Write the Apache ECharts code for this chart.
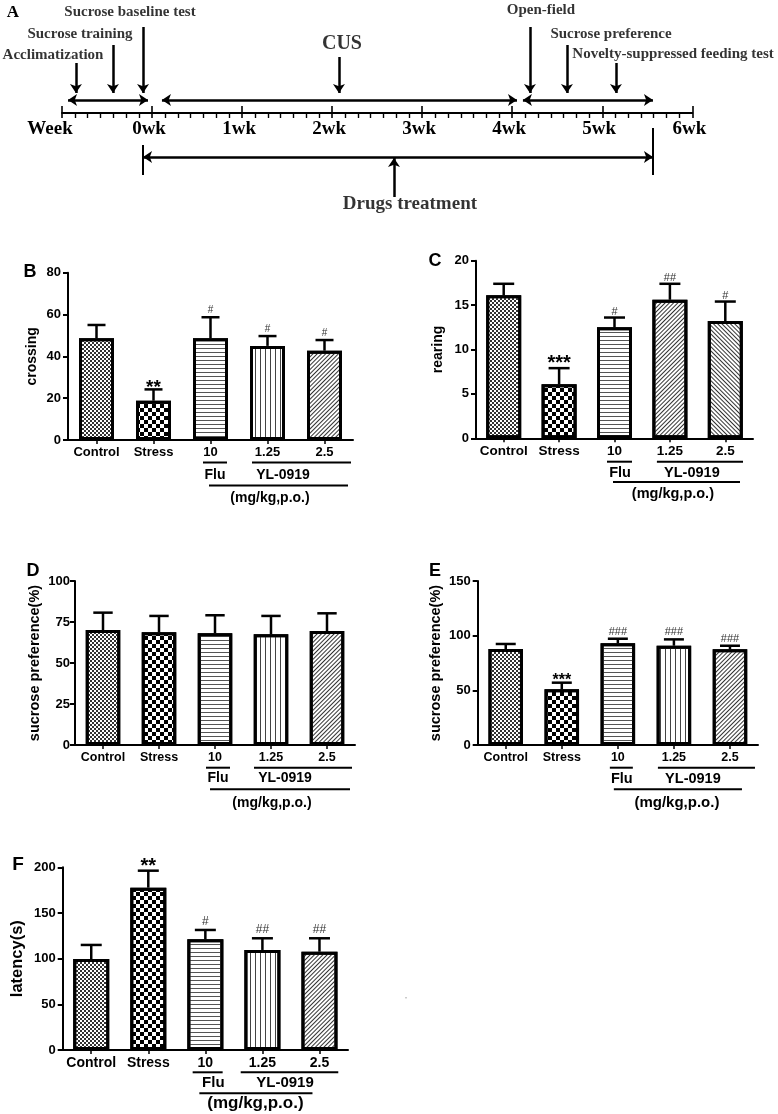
<!DOCTYPE html>
<html><head><meta charset="utf-8">
<script src="https://cdn.jsdelivr.net/npm/echarts@6/dist/echarts.min.js"></script>
<style>html,body{margin:0;padding:0;background:#fff}#c{width:778px;height:1114px}</style>
</head><body><div id="c"></div>
<script>
// ================= DATA =================
// Panel A: timeline (weeks, -1 .. 6)
const timelineTicks = ['Week','0wk','1wk','2wk','3wk','4wk','5wk','6wk'];
const eventNames = ['Acclimatization','Sucrose training','Sucrose baseline test','CUS','Open-field','Sucrose preference','Novelty-suppressed feeding test'];
const eventWeeks = [-0.845, -0.434, -0.1, 2.076, 4.197, 4.608, 5.152];
const periodStart = [-0.933, 0.11, 4.119];
const periodEnd   = [-0.045, 4.053, 5.563];
const treatmentRange = [-0.1, 5.563];
const treatmentName = 'Drugs treatment';
const treatmentArrowWeek = 2.687;

// Panels B-F
const categories = ['Control','Stress','10','1.25','2.5'];
const groupLabels = ['Flu','YL-0919'];
const doseUnit = '(mg/kg,p.o.)';

const crossingMean = [48.6, 18.8, 48.6, 45.0, 42.7];
const crossingSem  = [6.4, 5.4, 10.1, 4.7, 5.1];
const crossingMarks = ['', '**', '#', '#', '#'];

const rearingMean = [16.1, 6.1, 12.5, 15.6, 13.2];
const rearingSem  = [1.3, 1.8, 1.1, 1.8, 2.2];
const rearingMarks = ['', '***', '#', '##', '#'];

const baselineSucroseMean = [70.1, 68.7, 68.1, 67.5, 69.5];
const baselineSucroseSem  = [10.6, 10.0, 11.0, 11.2, 10.8];
const baselineSucroseMarks = ['', '', '', '', ''];

const finalSucroseMean = [87.8, 50.9, 93.0, 90.8, 87.5];
const finalSucroseSem  = [4.6, 6.1, 4.2, 5.8, 3.3];
const finalSucroseMarks = ['', '***', '###', '###', '###'];

const latencyMean = [99.6, 177.7, 121.2, 109.5, 107.6];
const latencySem  = [15.4, 18.6, 10.2, 12.8, 14.7];
const latencyMarks = ['', '**', '#', '##', '##'];

// ================= STYLE / LAYOUT =================
const SANS = '"Liberation Sans", Arial, sans-serif';
const SERIF = '"Liberation Serif", "Times New Roman", serif';

const decals = {
  fine:    {symbol:'rect', symbolSize:1, dashArrayX:[[2,2],[0,2,2,0]], dashArrayY:[2,0], color:'#333'},
  checker: {symbol:'rect', symbolSize:1, dashArrayX:[[4,4],[0,4,4,0]], dashArrayY:[4,0], color:'#000'},
  hlines:  {symbol:'rect', symbolSize:1, dashArrayX:[1,0], dashArrayY:[1,3], color:'#555'},
  vlines:  {symbol:'rect', symbolSize:1, dashArrayX:[1,4], dashArrayY:[1,0], color:'#444'},
  diagUp:  {symbol:'rect', symbolSize:1, dashArrayX:[1,0], dashArrayY:[1,2], rotation:-Math.PI/4, color:'#333'},
  diagDown:{symbol:'rect', symbolSize:1, dashArrayX:[1,0], dashArrayY:[1,2], rotation:Math.PI/4, color:'#333'}
};
const patStd = ['fine','checker','hlines','vlines','diagUp'];
const patC   = ['fine','checker','hlines','diagUp','diagDown'];

const panels = [
  {letter:'B', pos:[30,272], mean:crossingMean, sem:crossingSem, marks:crossingMarks, yName:'crossing', yMax:80, yInt:20,
   grid:{left:68, top:272.7, width:285, height:167.3}, barWidth:35, cap:9, pat:patStd,
   font:{cat:13, tick:13, name:14, group:14, mg:14, star:19, hash:10}, nameGap:29, tickMargin:7, starOff:2, hashOff:7,
   br:{y:{under:22.5, text:35, line:45.5, mg:58}, fluUnder:[-7.5,16.5], ylUnder:[-15.5,26.5], fluText:4.5, ylText:15.5, line:[-1.5,23.5], mgText:2.5}},
  {letter:'C', pos:[435,261], mean:rearingMean, sem:rearingSem, marks:rearingMarks, yName:'rearing', yMax:20, yInt:5,
   grid:{left:476, top:260.7, width:277, height:177.6}, barWidth:35, cap:10.5, pat:patC,
   font:{cat:13.5, tick:13, name:14, group:14.5, mg:14.5, star:20, hash:11}, nameGap:31, tickMargin:7, starOff:5, hashOff:6,
   br:{y:{under:23.4, text:34.7, line:43.7, mg:55.7}, fluUnder:[-7.5,17.5], ylUnder:[-13,17.7], fluText:5.5, ylText:22, line:[-1.5,14.7], mgText:3}},
  {letter:'D', pos:[33,571], mean:baselineSucroseMean, sem:baselineSucroseSem, marks:baselineSucroseMarks, yName:'sucrose preference(%)', yMax:100, yInt:25,
   grid:{left:75, top:581, width:280, height:164}, barWidth:34.5, cap:9.7, pat:patStd,
   font:{cat:12.5, tick:13, name:14.5, group:14, mg:14, star:18, hash:11}, nameGap:33, tickMargin:5, starOff:3, hashOff:7,
   br:{y:{under:22.7, text:33.5, line:44.3, mg:57.7}, fluUnder:[-9,15], ylUnder:[-17,25], fluText:3, ylText:14, line:[-5,23], mgText:1}},
  {letter:'E', pos:[435,571], mean:finalSucroseMean, sem:finalSucroseSem, marks:finalSucroseMarks, yName:'sucrose preference(%)', yMax:150, yInt:50,
   grid:{left:477.7, top:581, width:280.3, height:164}, barWidth:34.5, cap:10, pat:patStd,
   font:{cat:12.5, tick:13, name:14.5, group:14.5, mg:15, star:16, hash:11}, nameGap:34, tickMargin:7, starOff:2.5, hashOff:7,
   br:{y:{under:22.7, text:33.5, line:44.3, mg:57.7}, fluUnder:[-8,15], ylUnder:[-16,25], fluText:4, ylText:19, line:[-4,12], mgText:3}},
  {letter:'F', pos:[18,865], mean:latencyMean, sem:latencySem, marks:latencyMarks, yName:'latency(s)', yMax:200, yInt:50,
   grid:{left:62.7, top:867.3, width:285.3, height:182.7}, barWidth:36, cap:10.5, pat:patStd,
   font:{cat:14, tick:13, name:16.5, group:15, mg:17, star:20, hash:12}, nameGap:37, tickMargin:7, starOff:4.5, hashOff:8.5,
   br:{y:{under:22.3, text:32.7, line:43.3, mg:53.3}, fluUnder:[-12.7,17.3], ylUnder:[-21.7,18.8], fluText:8, ylText:22.6, line:[-6,-7], mgText:-7}}
];

// Panel A layout (y levels in px above the timeline axis)
const evLayout = [
  {tw:-1.1,   ty:58,   top:50, size:15},
  {tw:-0.8,   ty:79,   top:68, size:15},
  {tw:-0.245, ty:101,  top:86, size:15},
  {tw:2.109,  ty:69.5, top:56, size:20},
  {tw:4.319,  ty:103,  top:86, size:15},
  {tw:5.097,  ty:79,   top:68, size:15},
  {tw:5.786,  ty:59,   top:50, size:15}
];
const ARROW_ROW = 13, TIP = 20, DRUG_ROW = -44;

function txt(text, x, y, font, align, valign, fill){
  return {type:'text', x:x, y:y, style:{text:text, font:font, fill:fill||'#000',
    align:align||'center', textAlign:align||'center', verticalAlign:valign||'middle', textVerticalAlign:valign||'middle'}};
}

// ================= OPTION =================
const grids = [{left:62, top:0, width:630.3, height:113, outerBoundsMode:'none', containLabel:false}];
const xAxes = [
  {type:'value', gridIndex:0, min:-1, max:6, interval:1, position:'bottom',
   axisLine:{show:true, onZero:false, lineStyle:{color:'#000', width:2}},
   axisTick:{show:true, length:5, lineStyle:{color:'#000', width:1.6}},
   minorTick:{show:true, splitNumber:7, length:5, lineStyle:{color:'#000', width:1.4}},
   splitLine:{show:false}, minorSplitLine:{show:false},
   axisLabel:{show:true, margin:7, showMinLabel:true, showMaxLabel:true,
     formatter:function(v){const i=Math.round(v)+1; return i===0 ? '{w|'+timelineTicks[i]+'}' : '{n|'+timelineTicks[i]+'}';},
     rich:{w:{fontFamily:SERIF, fontWeight:'bold', fontSize:19, color:'#000', padding:[0,24,0,0]},
           n:{fontFamily:SERIF, fontWeight:'bold', fontSize:19, color:'#000', padding:[0,6,0,0]}}}},
  {type:'value', gridIndex:0, min:-1, max:6, interval:1, position:'bottom',
   axisLine:{show:false, onZero:false}, axisTick:{show:true, inside:true, length:7, lineStyle:{color:'#000', width:1.6}},
   axisLabel:{show:false}, splitLine:{show:false}}
];
const yAxes = [{type:'value', gridIndex:0, min:0, max:113, show:false, splitLine:{show:false}}];
const series = [];

// Panel A series
series.push({type:'lines', coordinateSystem:'cartesian2d', xAxisIndex:0, yAxisIndex:0, silent:true, clip:false,
  symbol:['arrow','arrow'], symbolSize:9, lineStyle:{color:'#000', width:2.5, opacity:1},
  data: periodStart.map((s,i)=>({coords:[[s, ARROW_ROW],[periodEnd[i], ARROW_ROW]]}))
    .concat([{coords:[[treatmentRange[0], DRUG_ROW],[treatmentRange[1], DRUG_ROW]]}])});
series.push({type:'lines', coordinateSystem:'cartesian2d', xAxisIndex:0, yAxisIndex:0, silent:true, clip:false,
  symbol:['none','arrow'], symbolSize:9, lineStyle:{color:'#000', width:2.5, opacity:1},
  data: eventWeeks.map((w,i)=>({coords:[[w, evLayout[i].top],[w, TIP]]}))
    .concat([{coords:[[treatmentArrowWeek, -84],[treatmentArrowWeek, DRUG_ROW-1]]}])});
series.push({type:'lines', coordinateSystem:'cartesian2d', xAxisIndex:0, yAxisIndex:0, silent:true, clip:false,
  symbol:'none', lineStyle:{color:'#000', width:2, opacity:1},
  data:[{coords:[[treatmentRange[0], -32],[treatmentRange[0], -62]]},{coords:[[treatmentRange[1], -15],[treatmentRange[1], -62]]}]});
series.push({type:'scatter', xAxisIndex:0, yAxisIndex:0, silent:true, clip:false, symbolSize:1,
  itemStyle:{color:'rgba(0,0,0,0)'},
  label:{show:true, position:'inside', formatter:p=>p.name, color:'#000', fontFamily:SERIF, fontWeight:'bold', textBorderWidth:0},
  data: eventNames.map((n,i)=>({name:n, value:[evLayout[i].tw, evLayout[i].ty], label:{fontSize:evLayout[i].size}}))
    .concat([{name:treatmentName, value:[2.864, -91], label:{fontSize:19}}])});

// Panels B-F
const graphics = [txt('A', 13, 13, 'bold 17px '+SERIF)];
panels.forEach((p,k)=>{
  const gi = k+1, xi = k+2, yi = k+1;
  grids.push(Object.assign({outerBoundsMode:'none', containLabel:false}, p.grid));
  xAxes.push({type:'category', gridIndex:gi, data:categories,
    axisLine:{show:true, onZero:false, lineStyle:{color:'#000', width:2}},
    axisTick:{show:true, alignWithLabel:true, length:4, lineStyle:{color:'#000', width:1.5}},
    axisLabel:{interval:0, margin:6, color:'#000', fontFamily:SANS, fontWeight:'bold', fontSize:p.font.cat},
    splitLine:{show:false}});
  yAxes.push({type:'value', gridIndex:gi, min:0, max:p.yMax, interval:p.yInt,
    axisLine:{show:true, lineStyle:{color:'#000', width:2}},
    axisTick:{show:true, length:5, lineStyle:{color:'#000', width:2}},
    axisLabel:{margin:p.tickMargin, color:'#000', fontFamily:SANS, fontWeight:'bold', fontSize:p.font.tick},
    splitLine:{show:false},
    name:p.yName, nameLocation:'middle', nameGap:p.nameGap, nameRotate:90, nameMoveOverlap:false,
    nameTextStyle:{color:'#000', fontFamily:SANS, fontWeight:'bold', fontSize:p.font.name}});
  series.push({type:'bar', xAxisIndex:xi, yAxisIndex:yi, barWidth:p.barWidth, silent:true,
    itemStyle:{color:'#fff', borderColor:'#000', borderWidth:3},
    data: p.mean.map((m,i)=>({value:m, itemStyle:{decal:decals[p.pat[i]]}}))});
  series.push({type:'custom', xAxisIndex:xi, yAxisIndex:yi, silent:true, z:5,
    data: p.mean.map((m,i)=>[i, m, m+p.sem[i]]),
    encode:{x:0, y:[1,2]},
    renderItem:function(params, api){
      const i = api.value(0);
      const b = api.coord([i, api.value(1)]), t = api.coord([i, api.value(2)]);
      const ls = {stroke:'#000', lineWidth:2.5};
      const ch = [
        {type:'line', shape:{x1:t[0], y1:b[1], x2:t[0], y2:t[1]}, style:ls},
        {type:'line', shape:{x1:t[0]-p.cap, y1:t[1], x2:t[0]+p.cap, y2:t[1]}, style:ls}
      ];
      const mk = p.marks[i];
      if (mk) {
        if (mk.indexOf('*')>=0) ch.push(txt(mk, t[0], t[1]-p.starOff, 'bold '+p.font.star+'px '+SANS));
        else ch.push(txt(mk, t[0], t[1]-p.hashOff, p.font.hash+'px '+SANS, 'center','middle','#333'));
      }
      return {type:'group', children:ch};
    }});
  series.push({type:'custom', xAxisIndex:xi, yAxisIndex:yi, silent:true, data:[[0,0]],
    renderItem:function(params, api){
      const c2 = api.coord([2,0]), c3 = api.coord([3,0]), c4 = api.coord([4,0]);
      const y0 = c2[1], br = p.br, Y = br.y;
      const ls = {stroke:'#000', lineWidth:2};
      const gf = 'bold '+p.font.group+'px '+SANS, mf = 'bold '+p.font.mg+'px '+SANS;
      return {type:'group', children:[
        {type:'line', shape:{x1:c2[0]+br.fluUnder[0], y1:y0+Y.under, x2:c2[0]+br.fluUnder[1], y2:y0+Y.under}, style:ls},
        {type:'line', shape:{x1:c3[0]+br.ylUnder[0], y1:y0+Y.under, x2:c4[0]+br.ylUnder[1], y2:y0+Y.under}, style:ls},
        txt(groupLabels[0], c2[0]+br.fluText, y0+Y.text, gf),
        txt(groupLabels[1], c3[0]+br.ylText, y0+Y.text, gf),
        {type:'line', shape:{x1:c2[0]+br.line[0], y1:y0+Y.line, x2:c4[0]+br.line[1], y2:y0+Y.line}, style:ls},
        txt(doseUnit, c3[0]+br.mgText, y0+Y.mg, mf)
      ]};
    }});
  graphics.push(txt(p.letter, p.pos[0], p.pos[1], 'bold '+(p.letter==='F'?19:18)+'px '+SANS));
});
graphics.push(txt('"', 406, 1000, '7px '+SANS, 'center', 'middle', '#aaa'));

const chart = echarts.init(document.getElementById('c'), null, {renderer:'canvas', width:778, height:1114});
chart.setOption({animation:false, backgroundColor:'#fff', textStyle:{fontFamily:SANS},
  grid:grids, xAxis:xAxes, yAxis:yAxes, series:series, graphic:graphics});
</script></body></html>
